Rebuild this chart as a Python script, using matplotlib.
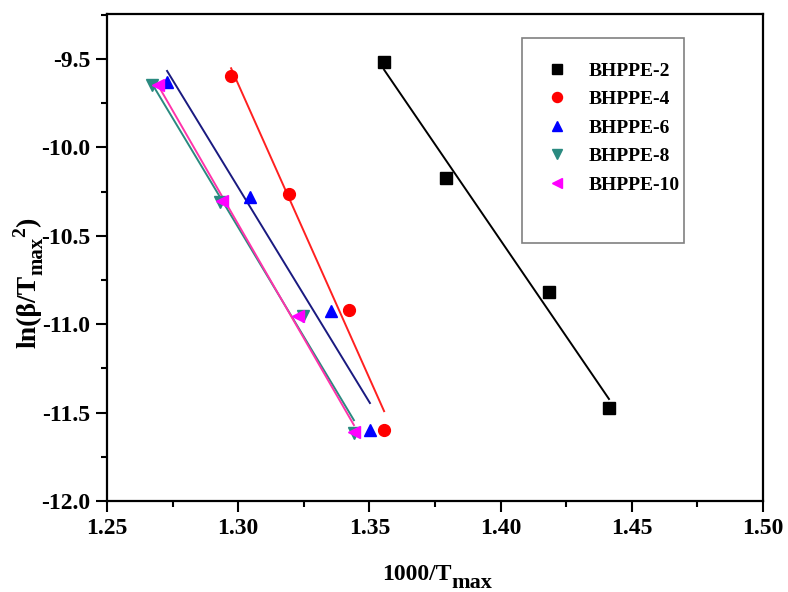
import numpy as np
import matplotlib
matplotlib.use("Agg")
import matplotlib.pyplot as plt
from matplotlib.ticker import MultipleLocator, FormatStrFormatter
from matplotlib.patches import Rectangle
from matplotlib.transforms import IdentityTransform

plt.rcParams['font.family'] = ['Liberation Serif', 'DejaVu Serif']
plt.rcParams['font.weight'] = 'bold'

labels = ["BHPPE-2", "BHPPE-4", "BHPPE-6", "BHPPE-8", "BHPPE-10"]
x_b2 = [1.3556, 1.3792, 1.4184, 1.4413]
y_b2 = [-9.517, -10.173, -10.818, -11.474]
x_b4 = [1.2973, 1.3194, 1.3422, 1.3556]
y_b4 = [-9.596, -10.263, -10.920, -11.598]
x_b6 = [1.2729, 1.3045, 1.3354, 1.3502]
y_b6 = [-9.630, -10.281, -10.925, -11.598]
x_b8 = [1.2671, 1.2931, 1.3247, 1.3441]
y_b8 = [-9.647, -10.309, -10.954, -11.615]
x_b10 = [1.2694, 1.2938, 1.3228, 1.3441]
y_b10 = [-9.647, -10.303, -10.954, -11.610]

xs = [x_b2, x_b4, x_b6, x_b8, x_b10]
ys = [y_b2, y_b4, y_b6, y_b8, y_b10]
markers = ['s', 'o', '^', 'v', '<']
mcolors = ['black', '#ff0000', '#0000ff', '#2a8a80', '#ff00ff']
lcolors = ['black', '#ff2020', '#1a1a80', '#2a8a80', '#ff33aa']

W, H = 788, 592
fig = plt.figure(figsize=(W/100, H/100), dpi=100)
ax = fig.add_axes([107/W, 1-501/H, (763-107)/W, (501-14)/H])

handles = []
for x, y, m, mc, lc, lab in zip(xs, ys, markers, mcolors, lcolors, labels):
    x = np.array(x); y = np.array(y)
    k, b = np.polyfit(x, y, 1)
    xx = np.array([x.min(), x.max()])
    ax.plot(xx, k*xx + b, color=lc, lw=1.4, zorder=2)
    h, = ax.plot(x, y, linestyle='none', marker=m, color=mc, ms=8.5, label=lab, zorder=3)
    handles.append(h)

ax.set_xlim(1.25, 1.50)
ax.set_ylim(-12.0, -9.245)
ax.xaxis.set_major_locator(MultipleLocator(0.05))
ax.xaxis.set_minor_locator(MultipleLocator(0.025))
ax.yaxis.set_major_locator(MultipleLocator(0.5))
ax.yaxis.set_minor_locator(MultipleLocator(0.25))
ax.xaxis.set_major_formatter(FormatStrFormatter('%.2f'))
ax.yaxis.set_major_formatter(FormatStrFormatter('%.1f'))
ax.tick_params(which='major', direction='out', length=8, width=1.5, labelsize=17, pad=4)
ax.tick_params(which='minor', direction='out', length=4, width=1.5)
ax.tick_params(top=False, right=False)
for s in ax.spines.values():
    s.set_linewidth(1.6)

# legend (frame drawn separately to match the reference box)
fig.patches.append(Rectangle((522/W, 1-243/H), (684-522)/W, (243-38)/H,
                             transform=fig.transFigure, fill=False,
                             edgecolor='#808080', lw=1.2))
leg = ax.legend(handles=handles, loc='upper left',
                bbox_to_anchor=(547/W, 1-62/H), bbox_transform=fig.transFigure,
                frameon=False, fontsize=14, borderpad=0, borderaxespad=0,
                labelspacing=0.56, handlelength=1.0, handletextpad=1.15,
                markerscale=0.85)
for t in leg.get_texts():
    t.set_fontweight('bold')

# composed axis labels (subscripts at near full size, like the reference)
renderer = fig.canvas.get_renderer()

def compose(pieces, x0, y0, rot, center=True):
    widths = []
    for txt, size, off in pieces:
        t = fig.text(0, 0, txt, fontsize=size, fontweight='bold', transform=IdentityTransform())
        widths.append(t.get_window_extent(renderer).width)
        t.remove()
    total = sum(widths)
    pos = -total/2 if center else 0
    for (txt, size, off), w in zip(pieces, widths):
        if rot == 0:
            fig.text(x0 + pos, y0 + off, txt, fontsize=size, fontweight='bold',
                     ha='left', va='baseline', transform=IdentityTransform())
        else:
            fig.text(x0 - off, y0 + pos, txt, fontsize=size, fontweight='bold',
                     ha='left', va='baseline', rotation=90, rotation_mode='anchor',
                     transform=IdentityTransform())
        pos += w

compose([("1000/T", 17, 0), ("max", 16, -8)], 437, H-580, 0)
compose([("ln(\u03b2/T", 20, 0), ("max", 15, -7), ("2", 14, 10), (")", 20, 0)], 35, H-283, 90)

fig.savefig('out.png', dpi=100)
